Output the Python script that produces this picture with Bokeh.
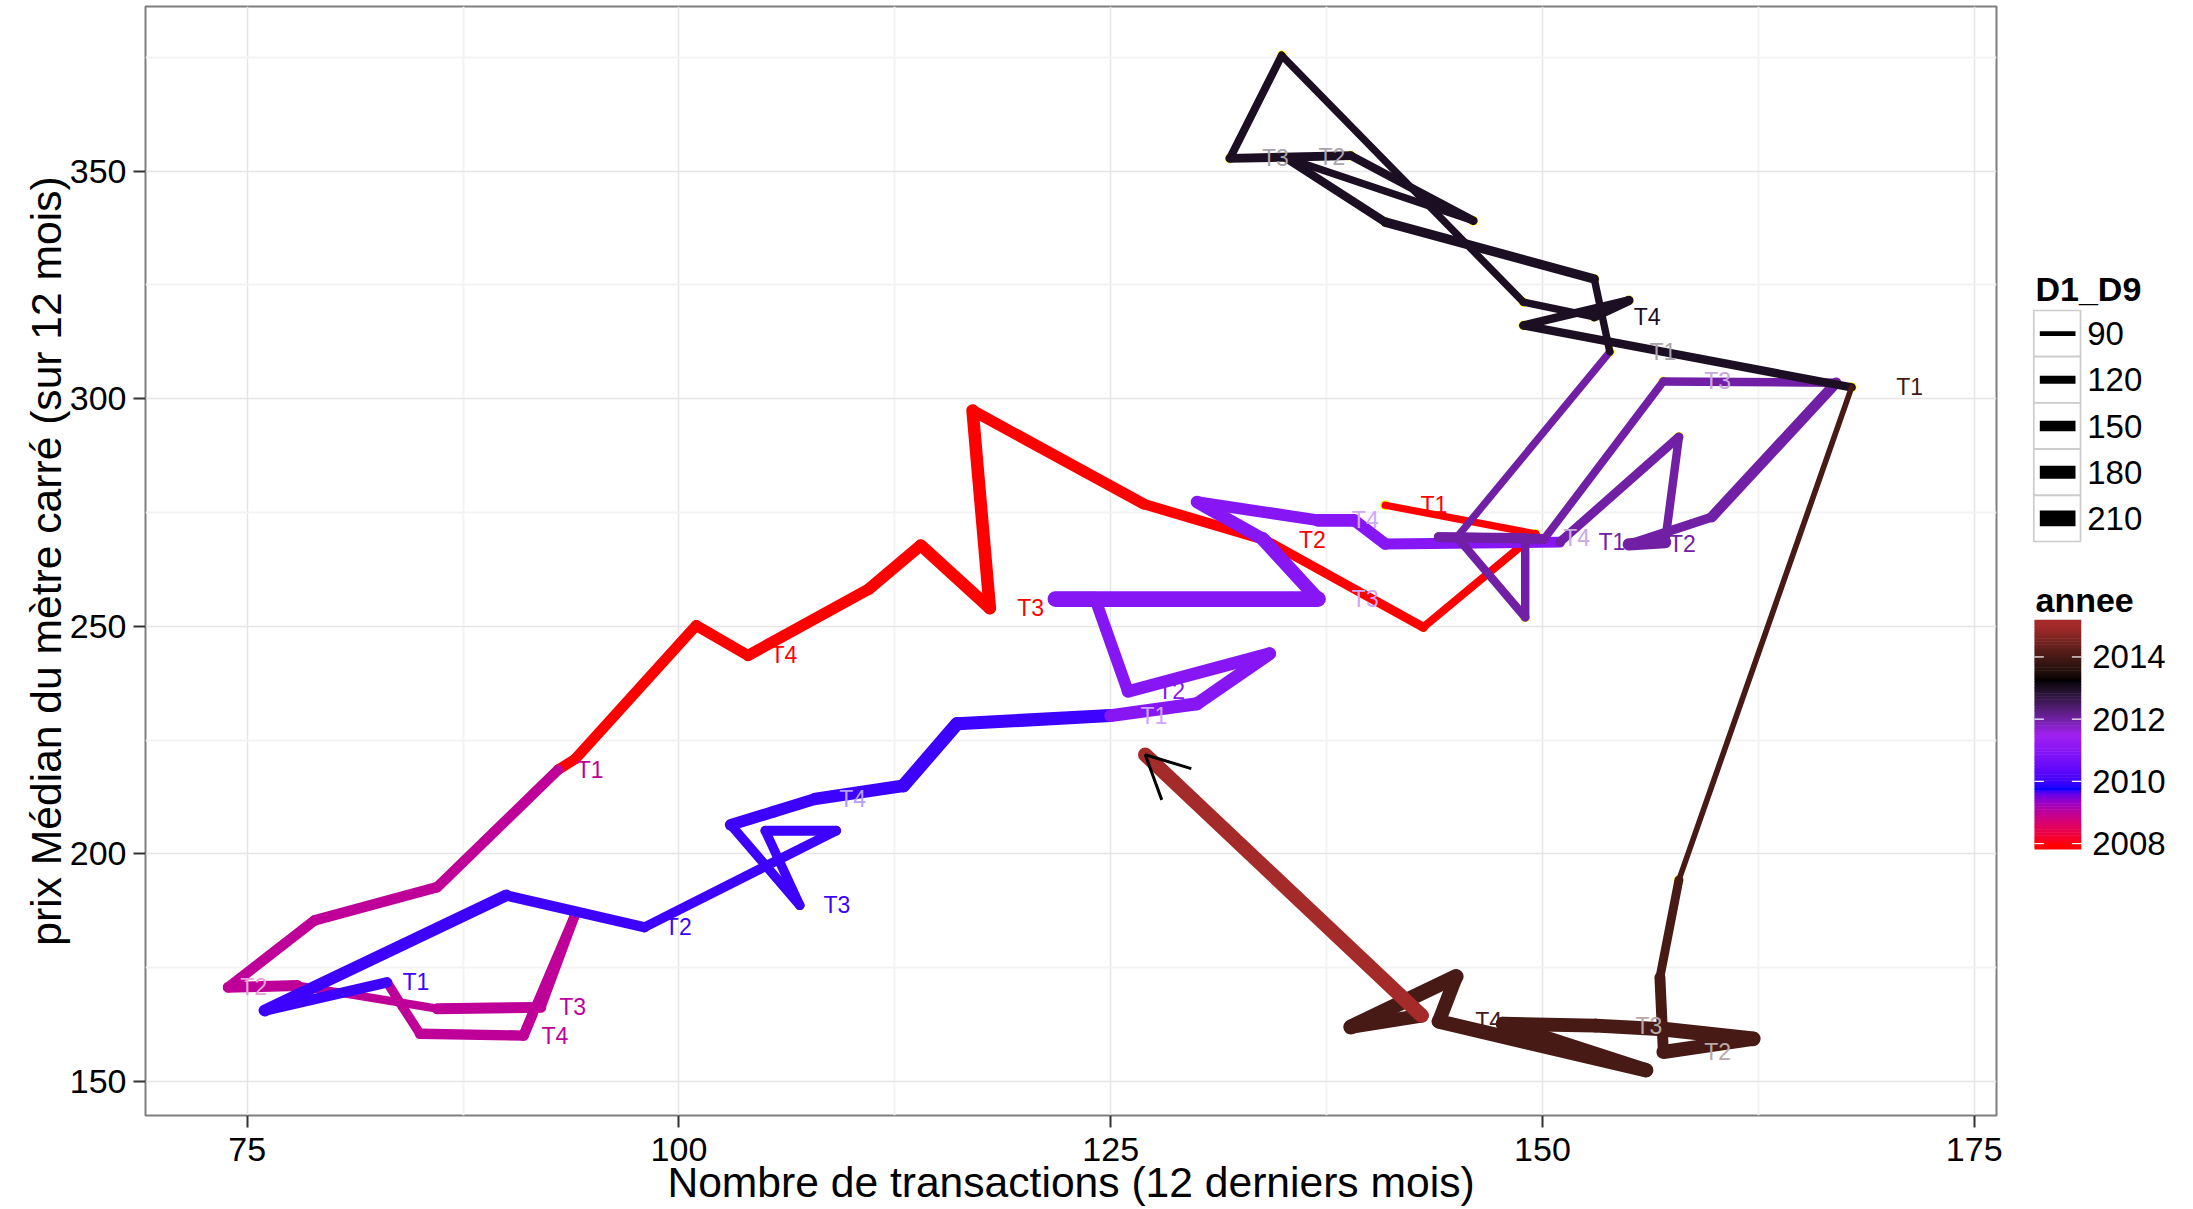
import numpy as np
from bokeh.plotting import figure
from bokeh.layouts import row
from bokeh.models import ColumnDataSource, Range1d, FixedTicker, Arrow, OpenHead
from bokeh.core.properties import value
from bokeh.embed import file_html
from bokeh.resources import INLINE

# ---------------- data ----------------
# monthly points; x = Nombre de transactions (12 derniers mois), y = prix median du m2
nb_2008 = [140.9, 149.6, 143.1, 134.0, 126.9, 117.0, 118.0, 114.0, 111.0, 104.0, 101.0, 94.0]
prix_2008 = [276.6, 270.3, 249.8, 268.9, 276.9, 297.4, 254.0, 267.8, 258.2, 243.6, 250.2, 220.9]
d1d9_2008 = [115, 122, 135, 147, 158, 174, 169, 164, 158, 153, 150, 147]

nb_2009 = [93.0, 86.0, 78.9, 73.9, 77.9, 86.0, 92.0, 94.0, 91.5, 91.0, 85.0, 84.0]
prix_2009 = [218.5, 192.7, 185.4, 170.7, 171.1, 166.0, 166.3, 186.8, 164.6, 160.1, 160.5, 166.4]
d1d9_2009 = [147, 150, 147, 153, 125, 153, 140, 140, 147, 147, 136, 136]

nb_2010 = [83.1, 76.0, 90.0, 98.0, 109.1, 105.0, 107.0, 103.0, 105.5, 107.9, 113.0, 116.1]
prix_2010 = [171.8, 165.6, 190.9, 183.9, 205.1, 205.1, 188.7, 206.4, 209.3, 212.1, 215.0, 228.6]
d1d9_2010 = [147, 164, 147, 140, 140, 136, 136, 164, 164, 174, 185, 180]

nb_2011 = [125.0, 130.0, 134.2, 126.0, 124.1, 121.8, 137.0, 133.8, 130.0, 137.0, 139.1, 140.9]
prix_2011 = [230.4, 233.0, 244.0, 235.7, 256.0, 256.0, 256.0, 269.2, 277.3, 273.3, 273.3, 268.1]
d1d9_2011 = [180, 180, 174, 164, 198, 210, 188, 176, 164, 176, 164, 153]

nb_2012 = [151.0, 157.9, 157.1, 155.0, 159.8, 167.0, 157.0, 150.1, 144.0, 149.0, 149.0, 145.05]
prix_2012 = [268.5, 291.6, 268.5, 268.0, 274.0, 303.5, 303.8, 269.2, 269.6, 269.4, 252.0, 269.6]
d1d9_2012 = [131, 126, 172, 136, 150, 126, 120, 142, 142, 126, 126, 115]

nb_2013 = [153.9, 153.0, 140.9, 135.1, 146.0, 138.9, 131.9, 134.9, 148.9, 153.0, 155.0, 148.9]
prix_2013 = [310.3, 326.3, 338.8, 353.0, 339.1, 353.4, 352.8, 375.4, 321.2, 318.0, 321.6, 316.1]
d1d9_2013 = [115, 136, 126, 115, 126, 131, 120, 115, 115, 136, 126, 126]

nb_2014 = [167.9, 157.9, 156.8, 157.0, 162.2, 157.0, 153.1, 147.7, 156.0, 144.0, 145.0, 138.9]
prix_2014 = [302.5, 194.3, 172.9, 156.5, 159.4, 161.5, 162.3, 162.7, 152.5, 163.2, 173.1, 162.0]
d1d9_2014 = [99, 130, 153, 190, 200, 190, 190, 190, 196, 190, 200, 190]

nb_2015 = [143.0, 127.0]
prix_2015 = [164.5, 221.8]
d1d9_2015 = [196, 180]

trimestre_annee = ["T1", "", "", "T2", "", "", "T3", "", "", "T4", "", ""]
trimestre_2015 = ["", ""]

x_ticks = [75, 100, 125, 150, 175]
x_minor = [87.5, 112.5, 137.5, 162.5]
y_ticks = [150, 200, 250, 300, 350]
y_minor = [175, 225, 275, 325, 375]
size_breaks = [90, 120, 150, 180, 210]
annee_breaks = [2008, 2010, 2012, 2014]

x_title = "Nombre de transactions (12 derniers mois)"
y_title = "prix Médian du mètre carré (sur 12 mois)"

# ---------------- assemble ----------------
years = [2008, 2009, 2010, 2011, 2012, 2013, 2014, 2015]
nb_all = [nb_2008, nb_2009, nb_2010, nb_2011, nb_2012, nb_2013, nb_2014, nb_2015]
prix_all = [prix_2008, prix_2009, prix_2010, prix_2011, prix_2012, prix_2013, prix_2014, prix_2015]
d_all = [d1d9_2008, d1d9_2009, d1d9_2010, d1d9_2011, d1d9_2012, d1d9_2013, d1d9_2014, d1d9_2015]

xs, ys, ds, an, lab = [], [], [], [], []
for yr, a, b, c in zip(years, nb_all, prix_all, d_all):
    xs += a; ys += b; ds += c; an += [yr] * len(a)
    lab += (trimestre_2015 if yr == 2015 else trimestre_annee)
n = len(xs)

# ---------------- scales ----------------
def hex2rgb(h):
    return [int(h[i:i + 2], 16) / 255 for i in (1, 3, 5)]

def rgb2lab(rgb):
    lin = [c / 12.92 if c <= 0.04045 else ((c + 0.055) / 1.055) ** 2.4 for c in rgb]
    X = 0.4124564 * lin[0] + 0.3575761 * lin[1] + 0.1804375 * lin[2]
    Y = 0.2126729 * lin[0] + 0.7151522 * lin[1] + 0.0721750 * lin[2]
    Z = 0.0193339 * lin[0] + 0.1191920 * lin[1] + 0.9503041 * lin[2]
    def f(t):
        return t ** (1 / 3) if t > (6 / 29) ** 3 else t / (3 * (6 / 29) ** 2) + 4 / 29
    fx, fy, fz = f(X / 0.95047), f(Y), f(Z / 1.08883)
    return (116 * fy - 16, 500 * (fx - fy), 200 * (fy - fz))

def lab2rgb(L, a, b):
    fy = (L + 16) / 116
    fx = fy + a / 500
    fz = fy - b / 200
    def finv(t):
        return t ** 3 if t > 6 / 29 else 3 * (6 / 29) ** 2 * (t - 4 / 29)
    X, Y, Z = 0.95047 * finv(fx), finv(fy), 1.08883 * finv(fz)
    r = 3.2404542 * X - 1.5371385 * Y - 0.4985314 * Z
    g = -0.9692660 * X + 1.8760108 * Y + 0.0415560 * Z
    bl = 0.0556434 * X - 0.2040259 * Y + 1.0572252 * Z
    def gam(c):
        c = c * 12.92 if c <= 0.0031308 else 1.055 * max(c, 0) ** (1 / 2.4) - 0.055
        return min(1.0, max(0.0, c))
    return [gam(r), gam(g), gam(bl)]

def rgb2hex(rgb):
    return "#%02x%02x%02x" % tuple(int(round(c * 255)) for c in rgb)

grad_colours = ["#FF0000", "#0000FF", "#A020F0", "#000000", "#A52A2A"]
grad_lab = [rgb2lab(hex2rgb(c)) for c in grad_colours]
amin, amax = min(an), max(an)

def annee_rgb(v):
    t = min(1.0, max(0.0, (v - amin) / (amax - amin)))
    pos = t * (len(grad_lab) - 1)
    i = min(int(pos), len(grad_lab) - 2)
    fr = pos - i
    L = [grad_lab[i][k] + (grad_lab[i + 1][k] - grad_lab[i][k]) * fr for k in range(3)]
    return lab2rgb(*L)

def annee_colour(v):
    return rgb2hex(annee_rgb(v))

size_widths = [4.7, 7.9, 10.7, 13.0, 15.8]   # px line widths of the size scale

def size_px(v):
    return float(np.interp(v, size_breaks, size_widths))

# ---------------- main figure ----------------
W1, W2, H = 2010, 183, 1209
XR = (69.11, 176.29)
YR = (142.55, 386.16)
ML, MR, MT, MB = 145, 14, 6, 94
FW, FH = W1 - ML - MR, H - MT - MB
FONT = "Liberation Sans"
LABEL_NUDGE = 1.02     # labels sit at 1.02 * x

p = figure(width=W1, height=H, x_range=Range1d(*XR), y_range=Range1d(*YR),
           output_backend="svg", toolbar_location=None, title=None,
           min_border_left=ML, min_border_right=MR, min_border_top=MT, min_border_bottom=MB)
p.background_fill_color = "white"
p.border_fill_color = "white"
p.outline_line_color = "#7F7F7F"
p.outline_line_width = 2

xt = FixedTicker(ticks=x_ticks, minor_ticks=x_minor)
yt = FixedTicker(ticks=y_ticks, minor_ticks=y_minor)
p.xaxis.ticker = xt
p.yaxis.ticker = yt
p.xgrid.ticker = xt
p.ygrid.ticker = yt
for g in (p.xgrid, p.ygrid):
    g.grid_line_color = "#E5E5E5"
    g.grid_line_width = 1.5
    g.minor_grid_line_color = "#F3F3F3"
    g.minor_grid_line_width = 2

for ax in (p.xaxis, p.yaxis):
    ax.axis_line_color = None
    ax.minor_tick_line_color = None
    ax.major_tick_in = 0
    ax.major_tick_out = 12
    ax.major_tick_line_color = "#333333"
    ax.major_tick_line_width = 2
    ax.major_label_text_font = FONT
    ax.major_label_text_font_size = "34px"
    ax.major_label_text_color = "black"
    ax.axis_label_text_font = FONT
    ax.axis_label_text_font_size = "42.6px"
    ax.axis_label_text_font_style = "normal"
    ax.axis_label_text_color = "black"
p.xaxis.major_label_standoff = 10
p.yaxis.major_label_standoff = 7
p.xaxis.axis_label = x_title
p.xaxis.axis_label_standoff = -6
p.yaxis.axis_label = y_title
p.yaxis.axis_label_standoff = -3

# yellow points under the path
pts = ColumnDataSource(dict(x=xs, y=ys))
p.scatter("x", "y", source=pts, size=10, fill_color="#FFFF00", line_color=None)

# path segments (colour / width of the start point)
seg = dict(x0=xs[:-1], y0=ys[:-1], x1=xs[1:], y1=ys[1:],
           c=[annee_colour(a) for a in an[:-1]], w=[size_px(d) for d in ds[:-1]])
p.segment("x0", "y0", "x1", "y1", source=ColumnDataSource(seg),
          line_color="c", line_width="w", line_cap="round")

# arrow head at the end of the path
arr = ColumnDataSource(dict(x0=[xs[-2]], y0=[ys[-2]], x1=[xs[-1]], y1=[ys[-1]]))
p.add_layout(Arrow(end=OpenHead(size=43, line_color="black", line_width=3),
                   x_start="x0", y_start="y0", x_end="x1", y_end="y1", source=arr,
                   line_alpha=0, line_width=0))

# quarter labels
def sx(v):
    return (v - XR[0]) / (XR[1] - XR[0]) * FW
def sy(v):
    return (YR[1] - v) / (YR[1] - YR[0]) * FH

plain = dict(x=[], y=[], t=[], c=[])
over = dict(x=[], y=[], t=[], c=[])
for k in range(n):
    if not lab[k]:
        continue
    lxd = xs[k] * LABEL_NUDGE
    lx, ly = sx(lxd), sy(ys[k])
    hit = False
    for i in range(n - 1):
        w = seg["w"][i]
        ax_, ay_, bx_, by_ = sx(xs[i]), sy(ys[i]), sx(xs[i + 1]), sy(ys[i + 1])
        for t in np.linspace(0, 1, 80):
            px_, py_ = ax_ + (bx_ - ax_) * t, ay_ + (by_ - ay_) * t
            if abs(px_ - lx) <= 4 + w / 2 and abs(py_ - ly) <= 1.5 + w / 2:
                hit = True
                break
        if hit:
            break
    rgb = annee_rgb(an[k])
    d = over if hit else plain
    d["x"].append(lxd); d["y"].append(ys[k]); d["t"].append(lab[k])
    d["c"].append(rgb2hex([c + (1 - c) * 0.62 for c in rgb]) if hit else rgb2hex(rgb))

for d in (plain, over):
    p.text("x", "y", text="t", source=ColumnDataSource(d), text_color="c",
           text_font=value(FONT), text_font_size="23px", text_align="center",
           text_baseline="middle")

# ---------------- legend figure (page pixel coordinates) ----------------
leg = figure(width=W2, height=H, x_range=Range1d(W1, W1 + W2), y_range=Range1d(H - MB, MT),
             output_backend="svg", toolbar_location=None, title=None,
             x_axis_location=None, y_axis_location=None,
             min_border_left=0, min_border_right=0, min_border_top=MT, min_border_bottom=MB)
leg.outline_line_color = None
leg.background_fill_color = "white"
leg.border_fill_color = "white"
leg.xgrid.visible = False
leg.ygrid.visible = False

leg.text(x=[2035], y=[288], text=["D1_D9"], text_font=value(FONT), text_font_style="bold",
         text_font_size="34px", text_baseline="alphabetic", text_align="left", text_color="black")
key_top, key_h, key_l, key_w = 310.0, 46.2, 2033.3, 46.7
kc = [key_top + key_h * (i + 0.5) for i in range(len(size_breaks))]
leg.rect(x=[key_l + key_w / 2] * len(kc), y=kc, width=key_w, height=key_h,
         fill_color="white", line_color="#CCCCCC", line_width=1.7)
leg.segment(x0=[key_l + 6] * len(kc), y0=kc, x1=[key_l + key_w - 5] * len(kc), y1=kc,
            line_color="black", line_width=[size_px(v) for v in size_breaks], line_cap="butt")
leg.text(x=[2086.7] * len(kc), y=kc, text=[str(v) for v in size_breaks], text_font=value(FONT),
         text_font_size="33px", text_baseline="middle", text_align="left", text_color="black")

leg.text(x=[2035], y=[599], text=["annee"], text_font=value(FONT), text_font_style="bold",
         text_font_size="34px", text_baseline="alphabetic", text_align="left", text_color="black")
cb_top, cb_bot, cb_l, cb_r = 619.6, 848.8, 2034.0, 2080.7
half_bin = (cb_bot - cb_top) / 40
y_lo, y_hi = cb_bot - half_bin, cb_top + half_bin
NB = 150
edges = np.linspace(cb_bot, cb_top, NB + 1)
cy = (edges[:-1] + edges[1:]) / 2
cyear = [amin + (y_lo - v) / (y_lo - y_hi) * (amax - amin) for v in cy]
leg.rect(x=[(cb_l + cb_r) / 2] * NB, y=list(cy), width=cb_r - cb_l,
         height=(cb_bot - cb_top) / NB + 0.6, fill_color=[annee_colour(v) for v in cyear],
         line_color=None)
ty = [y_lo - (v - amin) / (amax - amin) * (y_lo - y_hi) for v in annee_breaks]
tl = (cb_r - cb_l) / 5
leg.segment(x0=[cb_l] * len(ty), y0=ty, x1=[cb_l + tl] * len(ty), y1=ty, line_color="white", line_width=1.2)
leg.segment(x0=[cb_r - tl] * len(ty), y0=ty, x1=[cb_r] * len(ty), y1=ty, line_color="white", line_width=1.2)
leg.text(x=[2091.7] * len(ty), y=ty, text=[str(v) for v in annee_breaks], text_font=value(FONT),
         text_font_size="33px", text_baseline="middle", text_align="left", text_color="black")

layout = row(p, leg)
open("out.html", "w").write(file_html(layout, INLINE))
